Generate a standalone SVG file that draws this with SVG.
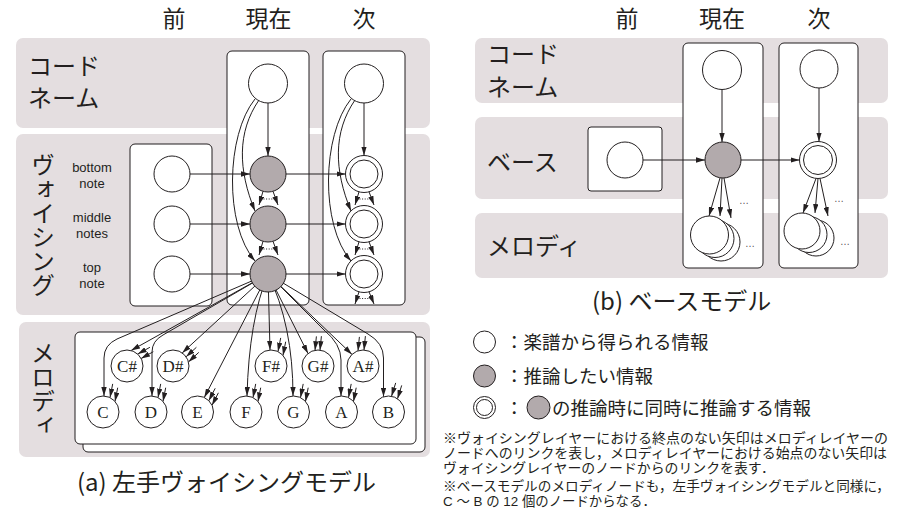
<svg xmlns="http://www.w3.org/2000/svg" width="897" height="516" viewBox="0 0 897 516">
<style>
.band{fill:#e4dee0;stroke:none}
.box{fill:#fff;stroke:#231f20;stroke-width:1}
.n{fill:#fff;stroke:#231f20;stroke-width:1}
.g{fill:#b2aaac;stroke:#231f20;stroke-width:1}
.e{fill:none;stroke:#231f20;stroke-width:1;marker-end:url(#ah)}
.dots{fill:none;stroke:#231f20;stroke-width:1.1;stroke-dasharray:1 1.6}
.jp{font-family:"Noto Sans CJK JP","Noto Sans",sans-serif;fill:#231f20}
.lab{font-size:24px}
.vt{writing-mode:vertical-rl;text-orientation:mixed}
.hd{font-size:23px;text-anchor:middle}
.en{font-family:"Liberation Sans",Arial,sans-serif;font-size:13px;text-anchor:middle;fill:#231f20}
.nt{font-family:"Liberation Serif","Times New Roman",serif;font-size:17px;text-anchor:middle;fill:#231f20}
.el{font-family:"Liberation Sans",Arial,sans-serif;font-size:10px;fill:#555}
.leg{font-size:18.5px}
.note{font-family:"Liberation Sans","Noto Sans CJK JP",sans-serif;font-size:13.4px;fill:#231f20}
</style>
<defs>
<marker id="ah" viewBox="0 0 10 6" refX="10" refY="3" markerWidth="9" markerHeight="5.4" markerUnits="userSpaceOnUse" orient="auto"><path d="M0,0 L10,3 L0,6 z" fill="#231f20"/></marker>
</defs>
<rect width="897" height="516" fill="#fff"/>

<!-- ===== Left panel (a) ===== -->
<g id="a-layers">
<rect class="band" x="16" y="38" width="414" height="90" rx="7"/>
<rect class="band" x="16" y="134" width="414" height="181" rx="7"/>
<rect class="band" x="19" y="322" width="411" height="135" rx="7"/>
<rect class="box" x="227" y="51" width="82" height="254" rx="5"/>
<rect class="box" x="323" y="51" width="82" height="254" rx="5"/>
<rect class="box" x="130" y="144" width="82" height="162" rx="5"/>
<rect class="box" x="83" y="337" width="342" height="115" rx="5"/>
<rect class="box" x="75" y="332" width="341" height="112" rx="5"/>
</g>
<g id="a-headers" class="jp hd">
<text x="174" y="27">前</text>
<text x="268.5" y="27">現在</text>
<text x="364" y="27">次</text>
</g>
<g id="a-layer-labels" class="jp lab">
<text x="28" y="75">コード</text>
<text x="28" y="107">ネーム</text>
<text class="vt" x="43" y="153">ヴォイシング</text>
<text class="vt" x="43" y="341">メロディ</text>
</g>
<g id="a-voicing-labels">
<text class="en" x="92" y="172">bottom</text>
<text class="en" x="92" y="188">note</text>
<text class="en" x="92" y="222">middle</text>
<text class="en" x="92" y="238">notes</text>
<text class="en" x="92" y="272">top</text>
<text class="en" x="92" y="288">note</text>
</g>

<g id="a-connectors">
<path class="e" d="M268,103 L268,156"/>
<path class="e" d="M364,103 L364,155.5"/>
<path class="e" d="M259,100 C237,132 238,170 255,211"/>
<path class="e" d="M255,99 C226,135 224,225 255,261"/>
<path class="e" d="M355,100 C333,132 334,170 351,211"/>
<path class="e" d="M351,99 C322,135 320,225 351,261"/>
<path class="e" d="M190,174 L250,174"/>
<path class="e" d="M190,224 L250,224"/>
<path class="e" d="M190,274 L250,274"/>
<path class="e" d="M286,174 L345.5,174"/>
<path class="e" d="M286,224 L345.5,224"/>
<path class="e" d="M286,274 L345.5,274"/>
<path class="e" d="M263,191.3 L259,205"/><path class="e" d="M273,191.3 L278,205"/><path class="dots" d="M263.5,199 L274,199"/>
<path class="e" d="M263,241.3 L259,255"/><path class="e" d="M273,241.3 L278,255"/><path class="dots" d="M263.5,249 L274,249"/>
<path class="e" d="M359,191.8 L355,205"/><path class="e" d="M369,191.8 L374,205"/><path class="dots" d="M359.5,199 L370,199"/>
<path class="e" d="M359,241.8 L355,255"/><path class="e" d="M369,241.8 L374,255"/><path class="dots" d="M359.5,249 L370,249"/>
<path class="e" d="M359,291.8 L355,304"/><path class="e" d="M369,291.8 L374,304"/><path class="dots" d="M359.5,298.5 L370,298.5"/>
<path class="e" d="M268,274 L117,339 Q104,345 104,358 L104,396"/>
<path class="e" d="M268,274 L163,335 Q152,341 152,352 L152,396"/>
<path class="e" d="M268,274 L204.3,397.5"/>
<path class="e" d="M268,274 Q249,320 247,396"/>
<path class="e" d="M268,274 Q293,325 293,396"/>
<path class="e" d="M268,274 L324,330 Q341,344 341,360 L341,396"/>
<path class="e" d="M268,274 L368,334 Q383.5,343 383.5,358 L383.5,396.8"/>
<path class="e" d="M268,274 L131.1,350.5"/>
<path class="e" d="M268,274 L182.2,352.9"/>
<path class="e" d="M268,274 L270,350"/>
<path class="e" d="M268,274 L308,353.5"/>
<path class="e" d="M268,274 L352,354.4"/>
<path class="e" d="M112.7,383.9 L110,397.6"/><path class="e" d="M117.7,387.7 L115,401.4"/>
<path class="e" d="M160.7,383.9 L158,397.6"/><path class="e" d="M165.7,387.7 L163,401.4"/>
<path class="e" d="M215.2,388.3 L208.8,400.7"/><path class="e" d="M218.4,392.8 L212,405.2"/>
<path class="e" d="M255.7,383.9 L253,397.6"/><path class="e" d="M260.7,387.7 L258,401.4"/>
<path class="e" d="M303.2,383.9 L300.5,397.6"/><path class="e" d="M308.2,387.7 L305.5,401.4"/>
<path class="e" d="M351.2,383.9 L348.5,397.6"/><path class="e" d="M356.2,387.7 L353.5,401.4"/>
<path class="e" d="M395.7,382.9 L391.5,396.3"/><path class="e" d="M401.7,385.4 L397.5,398.8"/>
<path class="e" d="M149.9,347.3 L137.7,354.1"/><path class="e" d="M153.3,351.7 L141.1,358.5"/>
<path class="e" d="M196.4,347.3 L186.1,356.8"/><path class="e" d="M198.75,352.4 L188.45,361.9"/>
<path class="e" d="M280.7,337.9 L278,351.6"/><path class="e" d="M285.7,341.7 L283,355.4"/>
<path class="e" d="M316.4,336.4 L315,350.3"/><path class="e" d="M321.4,336.2 L320,350.1"/>
<path class="e" d="M359.4,336.9 L358,350.8"/><path class="e" d="M365.4,336.1 L364,350"/>
</g>

<g id="a-chord-cur"><circle class="n" cx="268" cy="83.5" r="19.5"/></g>
<g id="a-chord-next"><circle class="n" cx="364" cy="83.5" r="19.5"/></g>
<g id="a-prev-bottom"><circle class="n" cx="172" cy="174" r="18"/></g>
<g id="a-prev-middle"><circle class="n" cx="172" cy="224" r="18"/></g>
<g id="a-prev-top"><circle class="n" cx="172" cy="274" r="18"/></g>
<g id="a-cur-bottom"><circle class="g" cx="268" cy="174" r="18"/></g>
<g id="a-cur-middle"><circle class="g" cx="268" cy="224" r="18"/></g>
<g id="a-cur-top"><circle class="g" cx="268" cy="274" r="18"/></g>
<g id="a-next-bottom"><circle class="n" cx="364" cy="174" r="18.5"/><circle class="n" cx="364" cy="174" r="14"/></g>
<g id="a-next-middle"><circle class="n" cx="364" cy="224" r="18.5"/><circle class="n" cx="364" cy="224" r="14"/></g>
<g id="a-next-top"><circle class="n" cx="364" cy="274" r="18.5"/><circle class="n" cx="364" cy="274" r="14"/></g>

<g id="m-C"><circle class="n" cx="103" cy="412" r="16"/><text class="nt" x="103" y="418">C</text></g>
<g id="m-D"><circle class="n" cx="151" cy="412" r="16"/><text class="nt" x="151" y="418">D</text></g>
<g id="m-E"><circle class="n" cx="197.5" cy="412" r="16"/><text class="nt" x="197.5" y="418">E</text></g>
<g id="m-F"><circle class="n" cx="246" cy="412" r="16"/><text class="nt" x="246" y="418">F</text></g>
<g id="m-G"><circle class="n" cx="293.5" cy="412" r="16"/><text class="nt" x="293.5" y="418">G</text></g>
<g id="m-A"><circle class="n" cx="341.5" cy="412" r="16"/><text class="nt" x="341.5" y="418">A</text></g>
<g id="m-B"><circle class="n" cx="388.5" cy="412" r="16"/><text class="nt" x="388.5" y="418">B</text></g>
<g id="m-Cs"><circle class="n" cx="127" cy="366" r="16"/><text class="nt" x="127" y="372">C#</text></g>
<g id="m-Ds"><circle class="n" cx="173" cy="366" r="16"/><text class="nt" x="173" y="372">D#</text></g>
<g id="m-Fs"><circle class="n" cx="271" cy="366" r="16"/><text class="nt" x="271" y="372">F#</text></g>
<g id="m-Gs"><circle class="n" cx="318" cy="366" r="16"/><text class="nt" x="318" y="372">G#</text></g>
<g id="m-As"><circle class="n" cx="363" cy="366" r="16"/><text class="nt" x="363" y="372">A#</text></g>

<text id="a-caption" class="jp" x="77" y="491" font-size="24">(a) 左手ヴォイシングモデル</text>

<!-- ===== Right panel (b) ===== -->
<g id="b-layers">
<rect class="band" x="475" y="38" width="413" height="65" rx="7"/>
<rect class="band" x="475" y="117" width="413" height="82" rx="7"/>
<rect class="band" x="475" y="213" width="413" height="65" rx="7"/>
<rect class="box" x="683" y="43" width="80" height="225" rx="5"/>
<rect class="box" x="779" y="43" width="79" height="225" rx="5"/>
<rect class="box" x="588" y="127" width="74" height="64" rx="3"/>
</g>
<g id="b-headers" class="jp hd">
<text x="627" y="27">前</text>
<text x="722" y="27">現在</text>
<text x="819" y="27">次</text>
</g>
<g id="b-layer-labels" class="jp lab">
<text x="487" y="63">コード</text>
<text x="487" y="96">ネーム</text>
<text x="487" y="171">ベース</text>
<text x="487" y="255">メロディ</text>
</g>
<g id="b-connectors">
<path class="e" d="M722,89.5 L722,142"/>
<path class="e" d="M819,88 L819,141.5"/>
<path class="e" d="M643,160 L705,160"/>
<path class="e" d="M741,160 L799.5,160"/>
<path class="e" d="M720,178 L709,216"/>
<path class="e" d="M722,178 L720,216"/>
<path class="e" d="M724,178 L731,218"/>
<path class="e" d="M816,178.5 L803,213"/>
<path class="e" d="M818,178.5 L815,213"/>
<path class="e" d="M820,178.5 L828,216"/>
</g>
<g id="b-chord-cur"><circle class="n" cx="722" cy="70" r="19.5"/></g>
<g id="b-chord-next"><circle class="n" cx="819" cy="69" r="19"/></g>
<g id="b-bass-prev"><circle class="n" cx="625" cy="160" r="18"/></g>
<g id="b-bass-cur"><circle class="g" cx="723" cy="160" r="18"/></g>
<g id="b-bass-next"><circle class="n" cx="818" cy="160" r="18.5"/><circle class="n" cx="818" cy="160" r="14.5"/></g>
<g id="b-melody-cur">
<circle class="n" cx="721" cy="242" r="19"/><circle class="n" cx="715" cy="238.5" r="19"/><circle class="n" cx="709.5" cy="235" r="19"/>
<text class="el" x="739" y="204">…</text><text class="el" x="745" y="247">…</text>
</g>
<g id="b-melody-next">
<circle class="n" cx="816" cy="238" r="18"/><circle class="n" cx="809" cy="234.5" r="18"/><circle class="n" cx="802" cy="231" r="18"/>
<text class="el" x="834" y="202">…</text><text class="el" x="840" y="245">…</text>
</g>
<text id="b-caption" class="jp" x="592" y="310" font-size="24">(b) ベースモデル</text>

<g id="legend">
<circle class="n" cx="484.5" cy="342" r="11"/>
<text class="jp leg" x="505" y="349">：楽譜から得られる情報</text>
<circle class="g" cx="484.5" cy="376" r="11"/>
<text class="jp leg" x="505" y="383">：推論したい情報</text>
<circle class="n" cx="484.5" cy="407.5" r="11"/><circle class="n" cx="484.5" cy="407.5" r="8"/>
<text class="jp leg" x="505" y="415">：</text>
<circle class="g" cx="538.5" cy="407.5" r="11.5"/>
<text class="jp leg" x="552" y="415">の推論時に同時に推論する情報</text>
</g>
<g id="notes" class="note">
<text x="443" y="443" textLength="445" lengthAdjust="spacingAndGlyphs">※ヴォイシングレイヤーにおける終点のない矢印はメロディレイヤーの</text>
<text x="443" y="458" textLength="444" lengthAdjust="spacingAndGlyphs">ノードへのリンクを表し，メロディレイヤーにおける始点のない矢印は</text>
<text x="443" y="473" textLength="332" lengthAdjust="spacingAndGlyphs">ヴォイシングレイヤーのノードからのリンクを表す．</text>
<text x="443" y="491" textLength="447" lengthAdjust="spacingAndGlyphs">※ベースモデルのメロディノードも，左手ヴォイシングモデルと同様に，</text>
<text x="443" y="506">C ～ B の 12 個のノードからなる．</text>
</g>
</svg>
